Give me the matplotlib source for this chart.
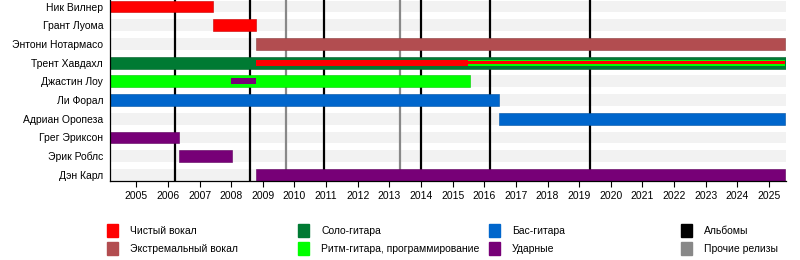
import matplotlib.pyplot as plt
from matplotlib.patches import Rectangle
from matplotlib.colors import to_rgb

plt.rcParams['font.family'] = ['Liberation Sans', 'DejaVu Sans']

names = ['Ник Вилнер', 'Грант Луома', 'Энтони Нотармасо', 'Трент Хавдахл',
         'Джастин Лоу', 'Ли Форал', 'Адриан Оропеза', 'Грег Эриксон',
         'Эрик Роблс', 'Дэн Карл']

start_year = 2004.17
end_year = 2025.52

# main periods: member, role, from, to
main_member = ['Ник Вилнер', 'Грант Луома', 'Энтони Нотармасо', 'Трент Хавдахл',
               'Джастин Лоу', 'Ли Форал', 'Адриан Оропеза', 'Грег Эриксон',
               'Эрик Роблс', 'Дэн Карл']
main_role = ['clean', 'clean', 'extreme', 'lead', 'rhythm', 'bass', 'bass',
             'drums', 'drums', 'drums']
main_from = [start_year, 2007.43, 2008.79, start_year, start_year, start_year,
             2016.48, start_year, 2006.36, 2008.79]
main_to = [2007.43, 2008.79, end_year, end_year, 2015.54, 2016.48, end_year,
           2006.36, 2008.03, end_year]

# second roles
sec_member = ['Трент Хавдахл', 'Трент Хавдахл', 'Джастин Лоу']
sec_role = ['clean', 'rhythm', 'drums']
sec_from = [2008.79, 2015.5, 2008.0]
sec_to = [2015.5, end_year, 2008.79]

# third roles
thr_member = ['Трент Хавдахл']
thr_role = ['clean']
thr_from = [2015.5]
thr_to = [end_year]

albums = [2006.24, 2008.59, 2010.92, 2013.99, 2016.18, 2019.34]
other_releases = [2009.73, 2013.35]

years = list(range(2005, 2026))

colors = {
    'clean': '#ff0000',
    'extreme': '#b24d50',
    'lead': '#007a33',
    'rhythm': '#00ff00',
    'bass': '#0066cc',
    'drums': '#770077',
    'albums': '#000000',
    'other': '#888888',
}

legend_keys = ['clean', 'extreme', 'lead', 'rhythm', 'bass', 'drums', 'albums', 'other']
legend_labels = ['Чистый вокал', 'Экстремальный вокал', 'Соло-гитара',
                 'Ритм-гитара, программирование', 'Бас-гитара', 'Ударные',
                 'Альбомы', 'Прочие релизы']


def darker(c, f=0.8):
    return tuple(v * f for v in to_rgb(c))


fig = plt.figure(figsize=(8, 2.6), dpi=100)
ax = fig.add_axes([110 / 800, 1 - 181 / 260, 675.5 / 800, 181 / 260])

row = {n: i for i, n in enumerate(names)}
h = 0.63

# background stripes
ax.barh(range(len(names)), end_year - start_year, left=start_year, height=h,
        color='#f2f2f2', zorder=0)

for x in albums:
    ax.axvline(x, color=colors['albums'], lw=1.6, zorder=1)
for x in other_releases:
    ax.axvline(x, color=colors['other'], lw=1.6, zorder=1)

for m, r, a, b in zip(main_member, main_role, main_from, main_to):
    ax.barh(row[m], b - a, left=a, height=h, color=colors[r],
            edgecolor=darker(colors[r]), linewidth=0.4, zorder=2)
for m, r, a, b in zip(sec_member, sec_role, sec_from, sec_to):
    ax.barh(row[m], b - a, left=a, height=0.32, color=colors[r], zorder=3)
for m, r, a, b in zip(thr_member, thr_role, thr_from, thr_to):
    ax.barh(row[m], b - a, left=a, height=0.15, color=colors[r], zorder=4)

ax.set_xlim(start_year, end_year)
ax.set_ylim(9.33, -0.35)
ax.set_yticks(range(len(names)))
ax.set_yticklabels(names, fontsize=7.5)
ax.set_xticks(years)
ax.set_xticklabels([str(y) for y in years], fontsize=7.5)
ax.tick_params(axis='y', length=0, pad=5)
ax.tick_params(axis='x', length=4, width=0.8, pad=3)
for s in ['top', 'right']:
    ax.spines[s].set_visible(False)
for s in ['left', 'bottom']:
    ax.spines[s].set_linewidth(0.9)

# legend
col_x = [107, 298, 489, 681]
row_y = [230.5, 248.5]
for i, (k, lab) in enumerate(zip(legend_keys, legend_labels)):
    cx = col_x[i // 2]
    cy = row_y[i % 2]
    fig.add_artist(Rectangle((cx / 800, 1 - (cy + 6.5) / 260), 11 / 800, 13 / 260,
                             transform=fig.transFigure, color=colors[k]))
    fig.text((cx + 23) / 800, 1 - cy / 260, lab, fontsize=7.5, va='center', ha='left')

fig.savefig('out.png', dpi=100)
